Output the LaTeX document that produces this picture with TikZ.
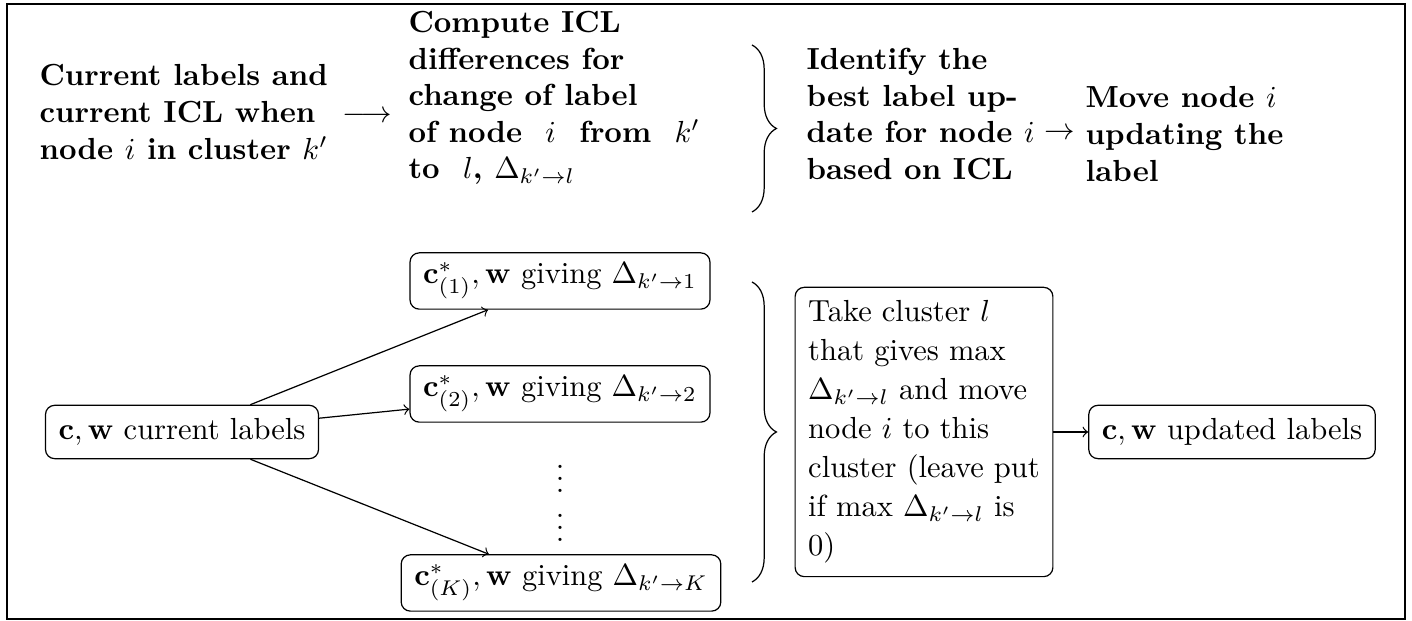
\documentclass[tikz,border=0pt]{standalone}
\usetikzlibrary{decorations.pathreplacing}
\begin{document}
\begin{tikzpicture}[x=0.32787pt,y=-0.32787pt,
  toptext/.style={font=\bfseries, align=left, inner sep=0pt, anchor=west},
  arrowtext/.style={inner sep=0pt},
  rbox/.style={draw, rounded corners=3pt, inner sep=4.3pt, align=left},
  conn/.style={->},
  bracestyle/.style={decorate, decoration={brace, amplitude=8pt}}]
\useasboundingbox (0,0) rectangle (1412,621);
\draw (7,4) rectangle (1405,619);
% top row
\node[toptext] (t1) at (39,112) {Current labels and\\current ICL when\\node $i$ in cluster $k'$};
\node[arrowtext] (a1) at (367,117) {$\longrightarrow$};
\node[toptext] (t2) at (408,98) {Compute ICL\\differences for\\change of label\\of node~~$i$~~from~~$k'$\\to~~$l$, $\Delta_{k'\to l}$};
\coordinate (br1s) at (752,45);
\coordinate (br1e) at (752,212);
\draw[bracestyle] (br1s) -- (br1e);
\node[toptext] (t3) at (806,114) {Identify the\\best label up-\\date for node $i$\\based on ICL};
\node[arrowtext] (a2) at (1060,134) {$\rightarrow$};
\node[toptext] (t4) at (1085,134) {Move node $i$\\updating the\\label};
% bottom row
\node[rbox] (b0) at (182,432) {$\mathbf{c},\mathbf{w}$ current labels};
\node[rbox, inner ysep=3.3pt] (b1) at (560,281) {$\mathbf{c}^*_{(1)},\mathbf{w}$ giving $\Delta_{k'\to 1}$};
\node[rbox, inner ysep=3.3pt] (b2) at (560,394) {$\mathbf{c}^*_{(2)},\mathbf{w}$ giving $\Delta_{k'\to 2}$};
\node[inner sep=0pt] (dots1) at (560,470) {$\vdots$};
\node[inner sep=0pt] (dots2) at (560,519) {$\vdots$};
\node[rbox, inner ysep=3.3pt] (bk) at (561,583) {$\mathbf{c}^*_{(K)},\mathbf{w}$ giving $\Delta_{k'\to K}$};
\draw[conn] (b0) -- (b1);
\draw[conn] (b0) -- (b2);
\draw[conn] (b0) -- (bk);
\coordinate (br2s) at (752,282);
\coordinate (br2e) at (752,582);
\draw[bracestyle] (br2s) -- (br2e);
\node[rbox] (bt) at (924,432) {Take cluster $l$\\[0.8pt]that gives max\\[0.8pt]$\Delta_{k'\to l}$ and move\\[0.8pt]node $i$ to this\\[0.8pt]cluster (leave put\\[0.8pt]if max $\Delta_{k'\to l}$ is\\[0.8pt]0)};
\node[rbox] (bf) at (1232,432) {$\mathbf{c},\mathbf{w}$ updated labels};
\draw[conn] (bt) -- (bf);
\end{tikzpicture}
\end{document}
